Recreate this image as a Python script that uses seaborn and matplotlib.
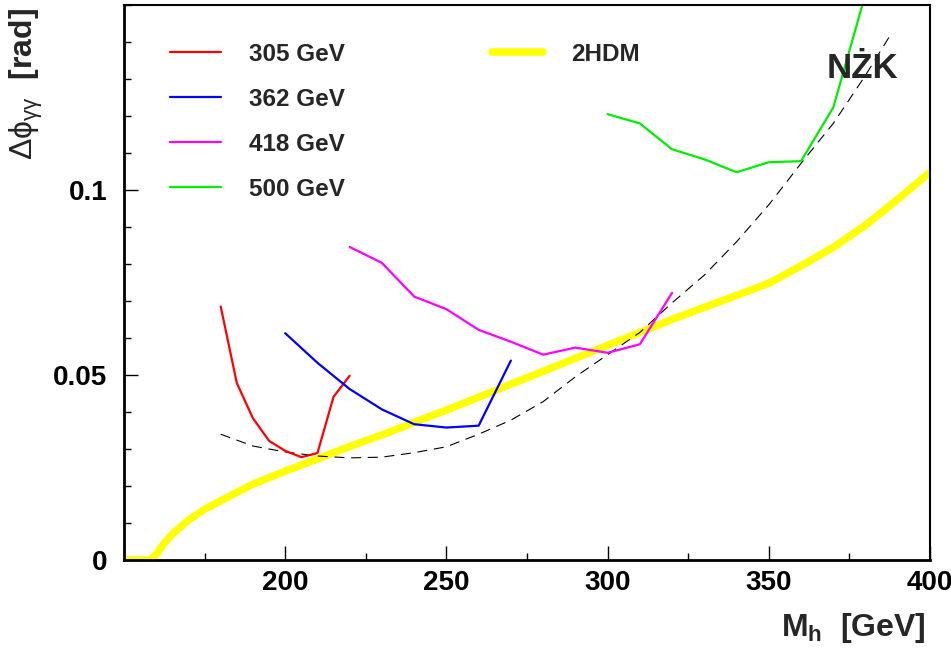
#!/usr/bin/env python3

import pandas as pd
import seaborn as sns
import matplotlib
matplotlib.use("Agg")
import matplotlib.pyplot as plt
from matplotlib.lines import Line2D
from matplotlib.ticker import MultipleLocator, FixedLocator, FuncFormatter

# --- values ---
mh_305 = [180, 185, 190, 195, 200, 205, 210, 215, 220]
dphi_305 = [0.0685, 0.0478, 0.0383, 0.0322, 0.0295, 0.0278, 0.0289, 0.0441, 0.0498]

mh_362 = [200, 210, 220, 230, 240, 250, 260, 270]
dphi_362 = [0.0613, 0.0533, 0.0462, 0.0407, 0.0367, 0.0358, 0.0363, 0.0539]

mh_418 = [220, 230, 240, 250, 260, 270, 280, 290, 300, 310, 320]
dphi_418 = [0.0846, 0.0803, 0.0712, 0.0678, 0.0622, 0.0590, 0.0555, 0.0574, 0.0560, 0.0583, 0.0722]

mh_500 = [300, 310, 320, 330, 340, 350, 360, 370, 380]
dphi_500 = [0.1205, 0.1180, 0.1110, 0.1083, 0.1048, 0.1075, 0.1078, 0.1223, 0.1530]

mh_2hdm = [150, 158, 160, 162, 165, 170, 175, 180, 190, 200, 210, 220, 230, 240, 250,
           260, 270, 280, 290, 300, 310, 320, 330, 340, 350, 360, 370, 380, 390, 400]
dphi_2hdm = [0.0, 0.0, 0.0015, 0.004, 0.007, 0.0108, 0.0137, 0.0160, 0.0205, 0.0240,
             0.0273, 0.0307, 0.0338, 0.0372, 0.0405, 0.0440, 0.0475, 0.0510, 0.0545,
             0.0580, 0.0615, 0.0650, 0.0683, 0.0715, 0.0748, 0.0795, 0.0845, 0.0905,
             0.0975, 0.1048]

mh_nzk = [180, 190, 200, 210, 220, 230, 240, 250, 260, 270, 280, 290, 300, 310, 320,
          330, 340, 350, 360, 370, 380, 388]
dphi_nzk = [0.0340, 0.0308, 0.0292, 0.0281, 0.0276, 0.0278, 0.0290, 0.0306, 0.0340,
            0.0378, 0.0428, 0.0495, 0.0555, 0.0615, 0.0695, 0.0770, 0.0860, 0.0960,
            0.1072, 0.1180, 0.1310, 0.1423]

series = [
    ("305 GeV", mh_305, dphi_305, "#ff0000"),
    ("362 GeV", mh_362, dphi_362, "#0000ff"),
    ("418 GeV", mh_418, dphi_418, "#ff00ff"),
    ("500 GeV", mh_500, dphi_500, "#00ee00"),
]


def main():
    sns.set_style("ticks")
    plt.rcParams["font.family"] = ["Liberation Sans", "DejaVu Sans"]
    plt.rcParams["font.weight"] = "bold"
    plt.rcParams["mathtext.fontset"] = "custom"
    plt.rcParams["mathtext.rm"] = "Liberation Sans:normal"
    plt.rcParams["mathtext.it"] = "Liberation Sans:normal"
    plt.rcParams["mathtext.bf"] = "Liberation Sans:bold"

    fig = plt.figure(figsize=(9.51, 6.5), dpi=100)
    ax = fig.add_axes([124 / 951, 90 / 650, 806 / 951, 555 / 650])

    # 2HDM band first so the other curves sit on top
    sns.lineplot(x=mh_2hdm, y=dphi_2hdm, ax=ax, color="#ffff00", linewidth=5.4,
                 sort=False, solid_capstyle="butt")
    sns.lineplot(x=mh_nzk, y=dphi_nzk, ax=ax, color="black", linewidth=0.8,
                 sort=False)
    ax.lines[-1].set_dashes([9, 6])

    handles = []
    for label, xs, ys, col in series:
        sns.lineplot(x=xs, y=ys, ax=ax, color=col, linewidth=1.6, sort=False)
        handles.append(Line2D([], [], color=col, linewidth=1.6))

    blank = Line2D([], [], color="none")
    handles = handles + [Line2D([], [], color="#ffff00", linewidth=5.4), blank, blank, blank]
    labels = [s[0] for s in series] + ["2HDM", "", "", ""]
    ax.legend(handles, labels, ncol=2, frameon=False, loc="upper left",
              bbox_to_anchor=(170 / 951, 1 - 43 / 650), bbox_transform=fig.transFigure,
              borderpad=0, borderaxespad=0, handlelength=2.1, handletextpad=1.15,
              labelspacing=0.9, columnspacing=6.05,
              prop={"size": 17.5, "weight": "bold"})

    ax.set_xlim(150, 400)
    ax.set_ylim(0, 0.15)
    ax.xaxis.set_major_locator(FixedLocator([200, 250, 300, 350, 400]))
    ax.xaxis.set_minor_locator(FixedLocator([175, 225, 275, 325, 375]))
    ax.yaxis.set_major_locator(FixedLocator([0, 0.05, 0.1]))
    ax.yaxis.set_minor_locator(MultipleLocator(0.01))
    ax.yaxis.set_major_formatter(FuncFormatter(lambda v, p: "{:g}".format(round(v, 3))))

    ax.tick_params(which="both", direction="in", top=False, right=False,
                   width=1.0, colors="black")
    ax.tick_params(axis="x", which="major", length=10, pad=7, labelsize=20)
    ax.tick_params(axis="x", which="minor", length=5)
    ax.tick_params(axis="y", which="major", length=10, pad=12, labelsize=20)
    ax.tick_params(axis="y", which="minor", length=5)
    for name, sp in ax.spines.items():
        sp.set_linewidth(2.0 if name in ("left", "bottom") else 1.5)
        sp.set_color("black")

    ax.set_xlabel("")
    ax.set_ylabel("")
    fig.text(926 / 951, 1 - 636 / 650, r"$\mathbf{M}_\mathbf{h}$  [GeV]",
             ha="right", va="baseline", fontsize=23, fontweight="bold")
    fig.text(26 / 951, 1 - 8 / 650, r"$\mathrm{\Delta\phi}_{\gamma\gamma}$  [rad]",
             rotation=90, ha="center", va="top", fontsize=23, fontweight="bold")
    ax.text((862 - 124) / 806, (560 - 78) / 555, "NŻK", transform=ax.transAxes,
            ha="center", va="baseline", fontsize=25, fontweight="bold")

    fig.savefig("out.png", dpi=100)


if __name__ == '__main__':
    main()
